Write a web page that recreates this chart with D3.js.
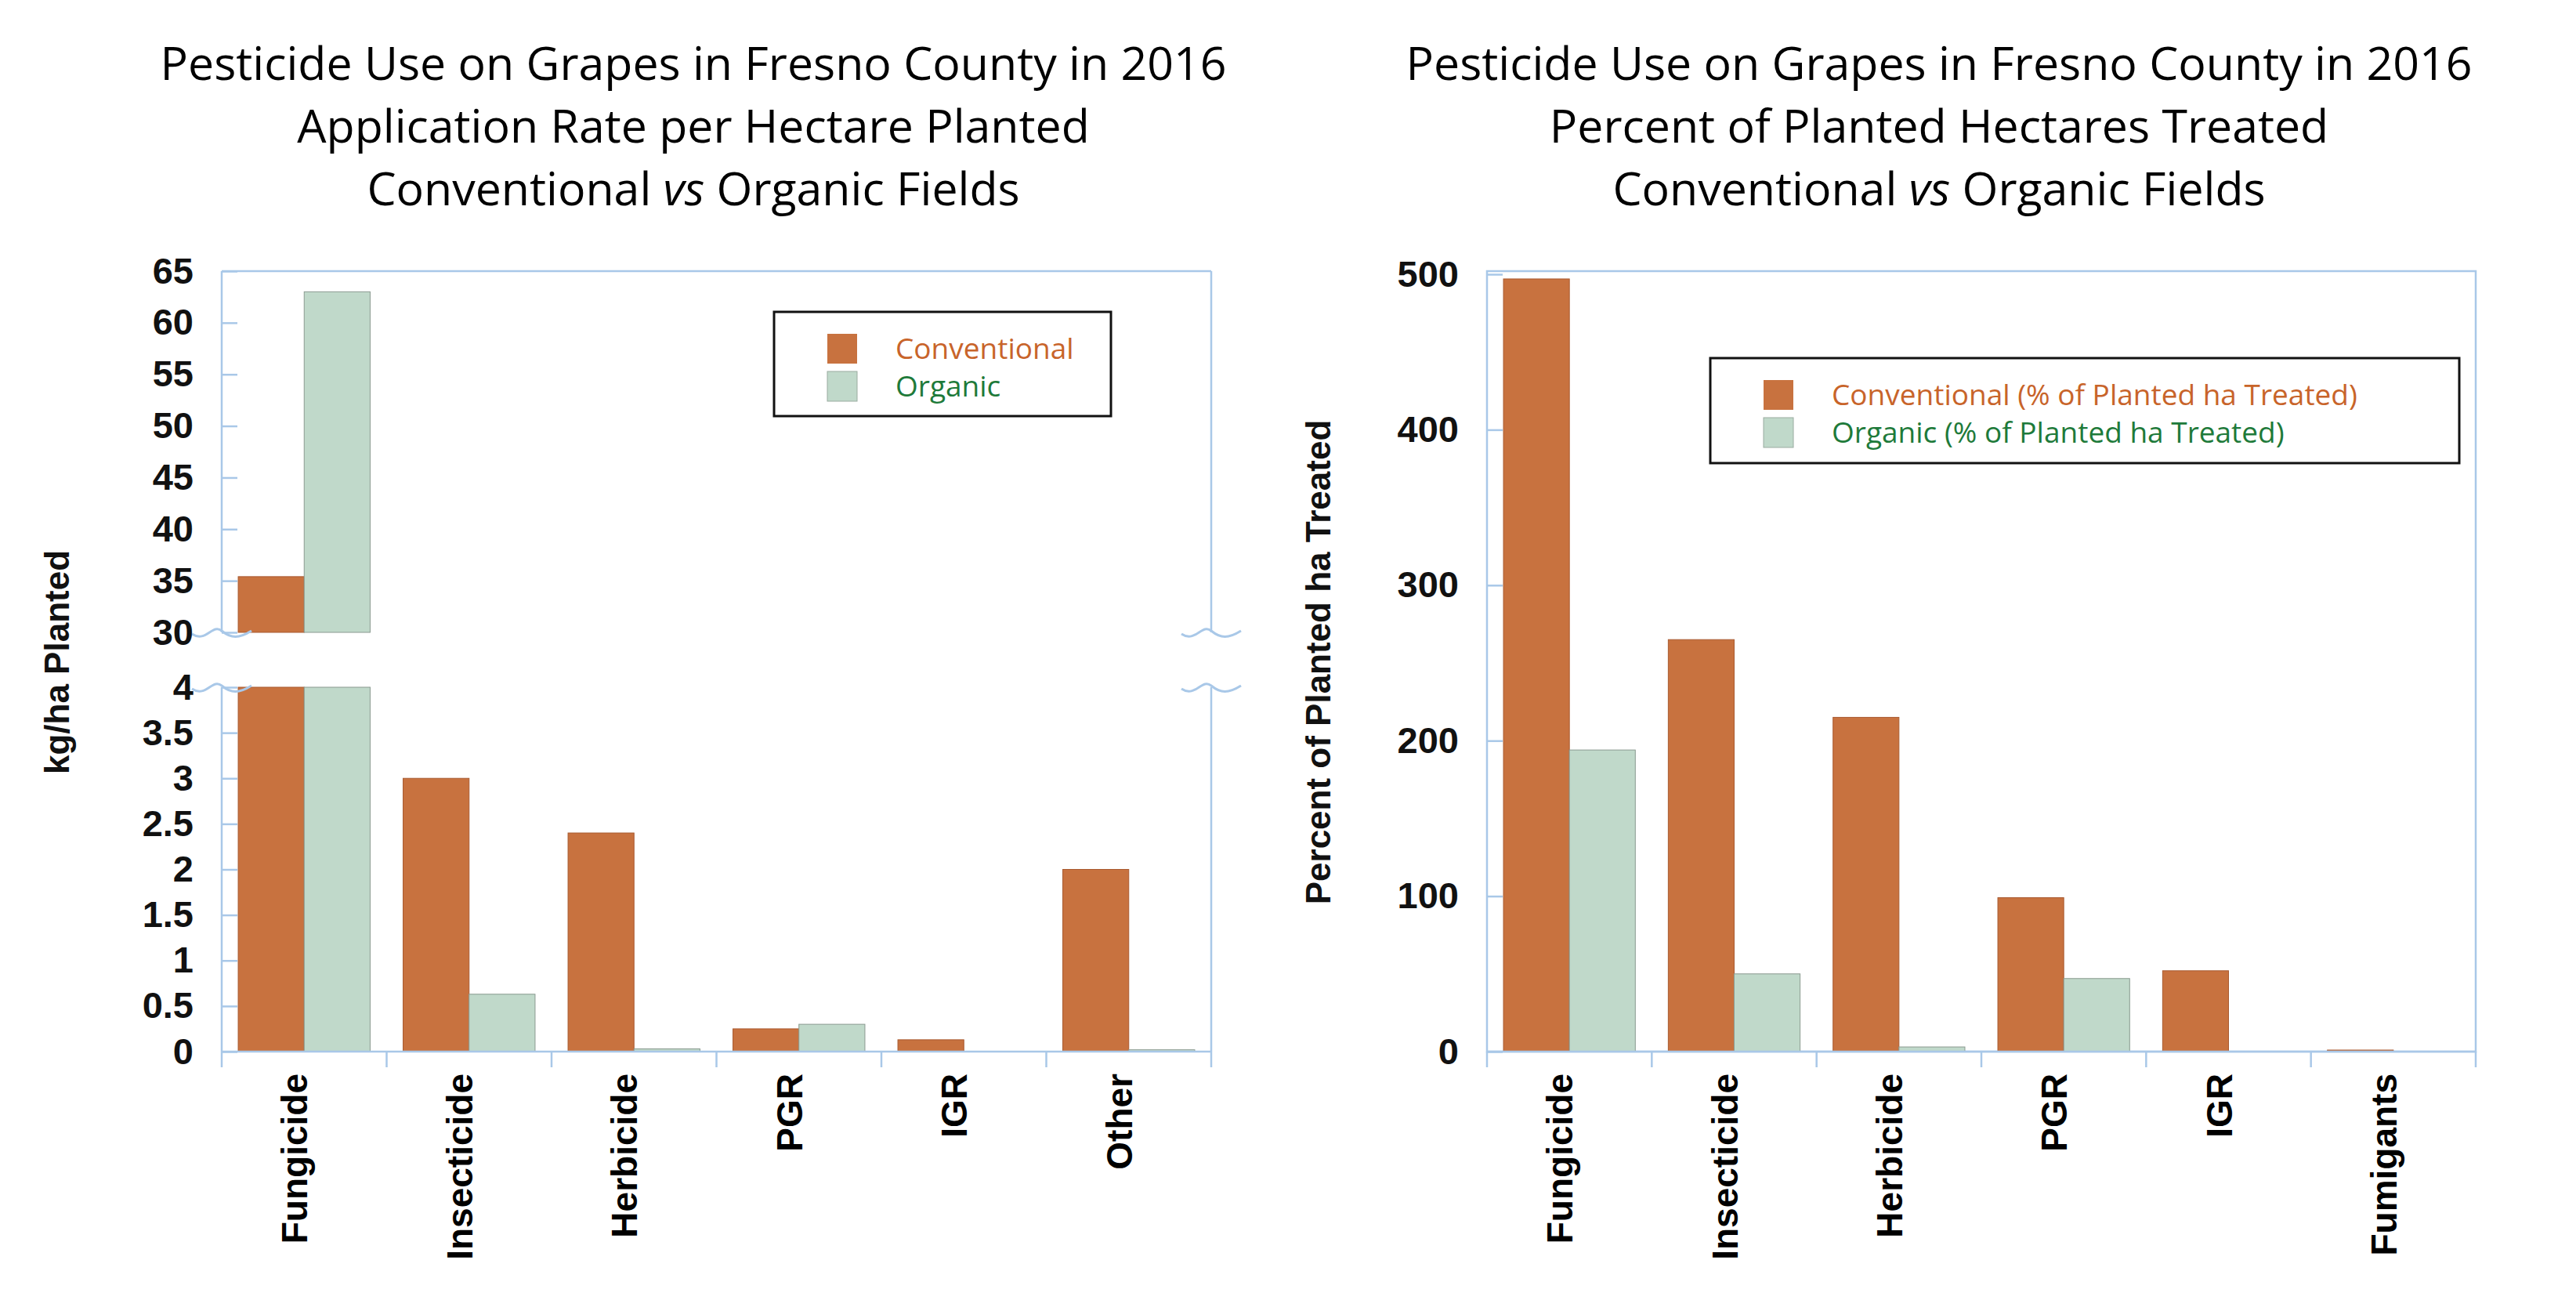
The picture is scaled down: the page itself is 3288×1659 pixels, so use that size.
<!DOCTYPE html>
<html><head><meta charset="utf-8">
<script src="https://cdnjs.cloudflare.com/ajax/libs/d3/7.8.5/d3.min.js"></script>
<style>body{margin:0;background:#fff}</style></head>
<body><svg id="c" width="3288" height="1659"></svg>
<script>
const catsL = ["Fungicide","Insecticide","Herbicide","PGR","IGR","Other"];
const convL = [35.4, 3.0, 2.4, 0.25, 0.13, 2.0];
const orgL  = [63.0, 0.63, 0.03, 0.30, 0, 0.02];
const upperTicksL = [30,35,40,45,50,55,60,65];
const lowerTicksL = [0,0.5,1,1.5,2,2.5,3,3.5,4];
const catsR = ["Fungicide","Insecticide","Herbicide","PGR","IGR","Fumigants"];
const convR = [497, 265, 215, 99, 52, 1];
const orgR  = [194, 50, 3, 47, 0, 0];
const ticksR = [0,100,200,300,400,500];
const titleL = ["Pesticide Use on Grapes in Fresno County in 2016","Application Rate per Hectare Planted"];
const titleR = ["Pesticide Use on Grapes in Fresno County in 2016","Percent of Planted Hectares Treated"];
const legendL = ["Conventional","Organic"];
const legendR = ["Conventional (% of Planted ha Treated)","Organic (% of Planted ha Treated)"];

const C_CONV="#c8723f", C_ORG="#c0d9ca", C_FRAME="#a9c8e8";
const TF="'Open Sans','Noto Sans',sans-serif", BF="'Liberation Sans',Arial,sans-serif";
const svg=d3.select("#c");

function titles(cx, lines){
  const t=svg.append("g").attr("font-family",TF).attr("font-size",59).attr("fill","#000").attr("text-anchor","middle");
  lines.forEach((l,i)=>t.append("text").attr("x",cx).attr("y",102+i*80).text(l));
  const t3=t.append("text").attr("x",cx).attr("y",262);
  t3.append("tspan").text("Conventional ");
  t3.append("tspan").attr("font-style","italic").text("vs");
  t3.append("tspan").text(" Organic Fields");
}
function frame(x0,x1,y0,y1){
  svg.append("rect").attr("x",x0).attr("y",y0).attr("width",x1-x0).attr("height",y1-y0)
    .attr("fill","none").attr("stroke",C_FRAME).attr("stroke-width",2.5);
}
function xaxis(x,cats,y0){
  const g=svg.append("g").attr("transform",`translate(0,${y0})`);
  const dom=x.range();
  g.append("line").attr("x1",dom[0]).attr("x2",dom[1]).attr("stroke",C_FRAME).attr("stroke-width",2.5);
  const edges=cats.map(c=>x(c)).concat([dom[1]]);
  edges.forEach(e=>g.append("line").attr("x1",e).attr("x2",e).attr("y1",0).attr("y2",20).attr("stroke",C_FRAME).attr("stroke-width",2.5));
  cats.forEach(c=>g.append("text").attr("transform",`translate(${x(c)+x.bandwidth()/2+4},28) rotate(-90)`)
    .attr("text-anchor","end").attr("font-family",BF).attr("font-weight","bold").attr("font-size",46).text(c));
}
function bars(x,cats,conv,org,yFn){
  const bw=x.bandwidth()*0.4, off=x.bandwidth()*0.1;
  cats.forEach((c,i)=>{
    [[conv[i],C_CONV,off,"#a85a30"],[org[i],C_ORG,off+bw,"#8a9a90"]].forEach(([v,col,o,st])=>{
      yFn(v).forEach(([ya,yb])=>{
        if(yb-ya<=0) return;
        svg.append("rect").attr("x",x(c)+o).attr("y",ya).attr("width",bw).attr("height",yb-ya)
          .attr("fill",col).attr("stroke",st).attr("stroke-width",1);
      });
    });
  });
}
function yaxis(scale,ticks,x0,fmt){
  const g=svg.append("g").attr("transform",`translate(${x0},0)`)
    .call(d3.axisLeft(scale).tickValues(ticks).tickSize(-20).tickPadding(36).tickFormat(fmt));
  g.select(".domain").remove();
  g.selectAll("line").attr("stroke",C_FRAME).attr("stroke-width",2.5);
  g.selectAll("text").attr("font-family",BF).attr("font-weight","bold").attr("font-size",47).attr("fill","#111");
}
function legend(x0,y0,w,h,labels,cols){
  svg.append("rect").attr("x",x0).attr("y",y0).attr("width",w).attr("height",h).attr("fill","#fff").attr("stroke","#111").attr("stroke-width",3);
  labels.forEach((l,i)=>{
    const yy=y0+28+i*48;
    svg.append("rect").attr("x",x0+68).attr("y",yy).attr("width",38).attr("height",38).attr("fill",[C_CONV,C_ORG][i]).attr("stroke",i?"#9aaba0":"none");
    svg.append("text").attr("x",x0+155).attr("y",yy+32).attr("font-family",TF).attr("font-size",37).attr("fill",cols[i]).text(l);
  });
}
function ylabel(x,y,t){
  svg.append("text").attr("transform",`translate(${x},${y}) rotate(-90)`).attr("text-anchor","middle")
    .attr("font-family",BF).attr("font-weight","bold").attr("font-size",44).attr("fill","#111").text(t);
}
const fmt=d=>String(d);

// LEFT
const xL=d3.scaleBand().domain(catsL).range([283,1546]).paddingInner(0).paddingOuter(0);
const yU=d3.scaleLinear().domain([30,65]).range([807,346]);
const yLo=d3.scaleLinear().domain([0,4]).range([1342,877]);
titles(885,titleL);
svg.append("line").attr("x1",283).attr("x2",1546).attr("y1",346).attr("y2",346).attr("stroke",C_FRAME).attr("stroke-width",2.5);
[283,1546].forEach(xx=>{
  svg.append("line").attr("x1",xx).attr("x2",xx).attr("y1",346).attr("y2",807).attr("stroke",C_FRAME).attr("stroke-width",2.5);
  svg.append("line").attr("x1",xx).attr("x2",xx).attr("y1",877).attr("y2",1342).attr("stroke",C_FRAME).attr("stroke-width",2.5);
});
bars(xL,catsL,convL,orgL,v=>{
  const r=[[yLo(Math.min(v,4)),yLo(0)]];
  if(v>30) r.push([yU(v),yU(30)]);
  return r;
});
[807,877].forEach(yy=>[283,1546].forEach(xx=>{
  svg.append("path").attr("d",`M${xx-38},${yy+2} C${xx-20},${yy+14} ${xx-12},${yy-12} ${xx},${yy-2} S${xx+22},${yy+8} ${xx+38},${yy-2}`)
    .attr("fill","none").attr("stroke",C_FRAME).attr("stroke-width",3);
}));
yaxis(yU,upperTicksL,283,fmt);
yaxis(yLo,lowerTicksL,283,fmt);
xaxis(xL,catsL,1342);
legend(988,398,430,133,legendL,["#c8642a","#1e7a3a"]);
ylabel(88,845,"kg/ha Planted");

// RIGHT
const xR=d3.scaleBand().domain(catsR).range([1898,3160]).paddingInner(0).paddingOuter(0);
const yR=d3.scaleLinear().domain([0,500]).range([1342,350]);
titles(2475,titleR);
frame(1898,3160,346,1342);
bars(xR,catsR,convR,orgR,v=>[[yR(v),yR(0)]]);
yaxis(yR,ticksR,1898,fmt);
xaxis(xR,catsR,1342);
legend(2183,457,956,134,legendR,["#c8642a","#1e7a3a"]);
ylabel(1698,845,"Percent of Planted ha Treated");
</script></body></html>
